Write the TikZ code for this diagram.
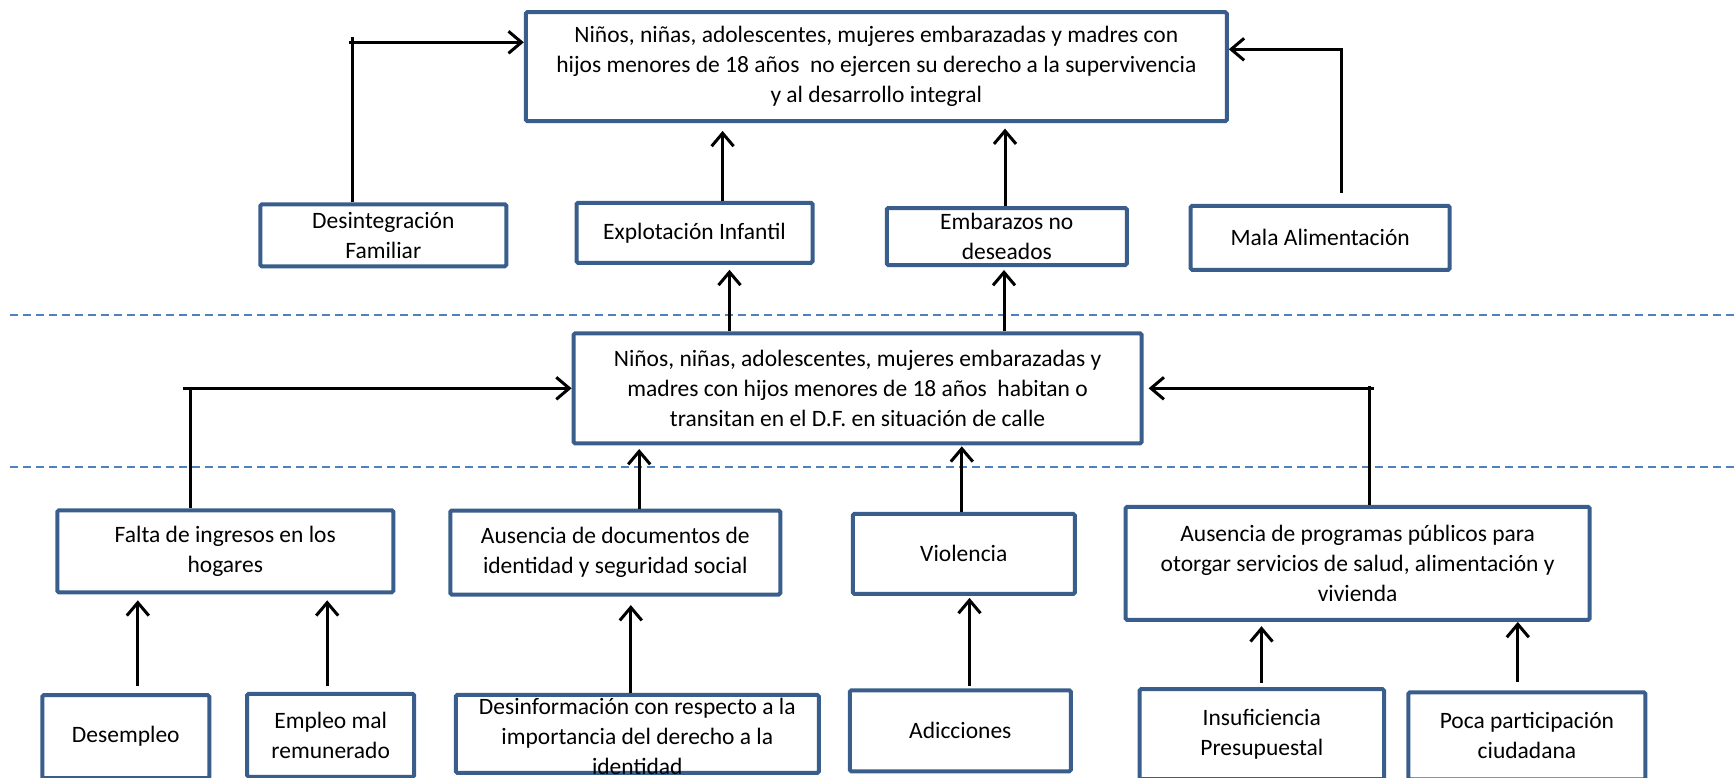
\documentclass[tikz,border=0pt]{standalone}
\usepackage{fontspec}
\setmainfont{Carlito}
\usetikzlibrary{arrows.meta}
\definecolor{boxblue}{HTML}{3A5E8C}
\definecolor{dashblue}{HTML}{4F81BD}
\tikzset{
  box/.style={draw=boxblue, line width=4pt, fill=white, rounded corners=1.5pt,
    inner sep=0pt, align=center, font=\fontsize{23.5}{30}\selectfont},
  txt/.style={inner sep=0pt, align=center, font=\fontsize{23.5}{30}\selectfont},
  arr/.style={draw=black, line width=3pt, -{Straight Barb[length=13pt,width=22pt]}},
  plain/.style={draw=black, line width=3pt},
  sep/.style={draw=dashblue, line width=1.6pt, dash pattern=on 8pt off 5pt}
}
\begin{document}
\begin{tikzpicture}[x=1pt,y=-1pt]
\useasboundingbox (0,0) rectangle (1736,777);
\clip (0,0) rectangle (1736,777);

% separators
\draw[sep] (9.6,315) -- (1736,315);
\draw[sep] (9.6,466.7) -- (1736,466.7);

% top level
\node[box, minimum width=701pt, minimum height=109pt] (top) at (876.3,66.7)
  {Niños, niñas, adolescentes, mujeres embarazadas y madres con\\hijos menores de 18 años\ \ no ejercen su derecho a la supervivencia\\y al desarrollo integral};

\node[box, minimum width=246pt, minimum height=62pt] (desint) at (383.3,235.3) {Desintegración\\Familiar};
\node[box, minimum width=236pt, minimum height=60pt] (explot) at (694.5,232.8) {Explotación Infantil};
\node[box, minimum width=240pt, minimum height=57pt] (embar) at (1006.8,236.5) {Embarazos no\\deseados};
\node[box, minimum width=259pt, minimum height=64pt] (mala) at (1320.2,237.8) {Mala Alimentación};

% middle
\node[box, minimum width=568pt, minimum height=110pt] (middle) at (857.6,388.3)
  {Niños, niñas, adolescentes, mujeres embarazadas y\\madres con hijos menores de 18 años\ \ habitan o\\transitan en el D.F. en situación de calle};

% causes
\node[box, minimum width=336pt, minimum height=82pt] (falta) at (225.3,551.3) {Falta de ingresos en los\\hogares};
\node[box, minimum width=330pt, minimum height=84pt] (ausdoc) at (615.3,552.5) {Ausencia de documentos de\\identidad y seguridad social};
\node[box, minimum width=222pt, minimum height=80pt] (viol) at (963.8,553.9) {Violencia};
\node[box, minimum width=464pt, minimum height=113pt] (ausprog) at (1357.6,563.4)
  {Ausencia de programas públicos para\\otorgar servicios de salud, alimentación y\\vivienda};

% root causes
\node[box, minimum width=167pt, minimum height=83pt] (desemp) at (125.8,736.7) {Desempleo};
\node[box, minimum width=167pt, minimum height=83pt] (empleo) at (330.7,735.3) {Empleo mal\\remunerado};
\node[box, minimum width=363pt, minimum height=78pt] (desinf) at (637.3,733.9) {};
\node[txt] (desinftxt) at (637.3,736.2) {Desinformación con respecto a la\\importancia del derecho a la\\identidad};
\node[box, minimum width=221pt, minimum height=81pt] (adicc) at (960.3,730.8) {Adicciones};
\node[box, minimum width=244.5pt, minimum height=90pt] (insuf) at (1261.8,734.2) {Insuficiencia\\Presupuestal};
\node[box, minimum width=237pt, minimum height=87pt] (poca) at (1526.9,735.8) {Poca participación\\ciudadana};

% elbow coordinates
\coordinate (dtop) at (352.6,37);
\coordinate (dleft) at (348.7,42.3);
\coordinate (malak) at (1341,49.3);
\coordinate (ftop) at (190.6,388.3);
\coordinate (fleft) at (182.5,388.3);
\coordinate (ptop) at (1369.8,386);
\coordinate (pright) at (1373.8,388.3);

% connectors to top
\draw[plain] ([xshift=-30.7pt]desint.north) -- (dtop);
\draw[arr] (dleft) -- (dleft -| top.west);
\draw[arr, shorten >=7.7pt] ([xshift=28.1pt]explot.north) -- ([xshift=28.1pt]explot.north |- top.south);
\draw[arr, shorten >=5.4pt] ([xshift=-1.8pt]embar.north) -- ([xshift=-1.8pt]embar.north |- top.south);
\draw[arr, shorten <=11pt] ([xshift=20.8pt]mala.north) -- (malak) -- (malak -| top.east);

% middle to effects
\draw[arr, shorten >=5pt] ([xshift=-128.1pt]middle.north) -- ([xshift=-128.1pt]middle.north |- explot.south);
\draw[arr, shorten >=3pt] ([xshift=146.4pt]middle.north) -- ([xshift=146.4pt]middle.north |- embar.south);

% causes to middle
\draw[plain] ([xshift=-34.7pt]falta.north) -- (ftop);
\draw[arr] (fleft) -- (fleft -| middle.west);
\draw[arr, shorten >=3.7pt] ([xshift=23.9pt]ausdoc.north) -- ([xshift=23.9pt]ausdoc.north |- middle.south);
\draw[arr, shorten >=1pt] ([xshift=-2pt]viol.north) -- ([xshift=-2pt]viol.north |- middle.south);
\draw[plain] ([xshift=12.2pt]ausprog.north) -- (ptop);
\draw[arr, shorten >=5pt] (pright) -- (pright -| middle.east);

% root causes to causes
\draw[arr, shorten <=7.3pt, shorten >=6pt] ([xshift=12pt]desemp.north) -- ([xshift=12pt]desemp.north |- falta.south);
\draw[arr, shorten <=5.7pt, shorten >=6pt] ([xshift=-3.5pt]empleo.north) -- ([xshift=-3.5pt]empleo.north |- falta.south);
\draw[arr, shorten >=8.6pt] ([xshift=-6.5pt]desinf.north) -- ([xshift=-6.5pt]desinf.north |- ausdoc.south);
\draw[arr, shorten <=2.3pt, shorten >=2pt] ([xshift=9.2pt]adicc.north) -- ([xshift=9.2pt]adicc.north |- viol.south);
\draw[arr, shorten <=4.3pt, shorten >=4.3pt] ([xshift=-0.3pt]insuf.north) -- ([xshift=-0.3pt]insuf.north |- ausprog.south);
\draw[arr, shorten <=8.7pt] ([xshift=-9.1pt]poca.north) -- ([xshift=-9.1pt]poca.north |- ausprog.south);
\end{tikzpicture}
\end{document}
